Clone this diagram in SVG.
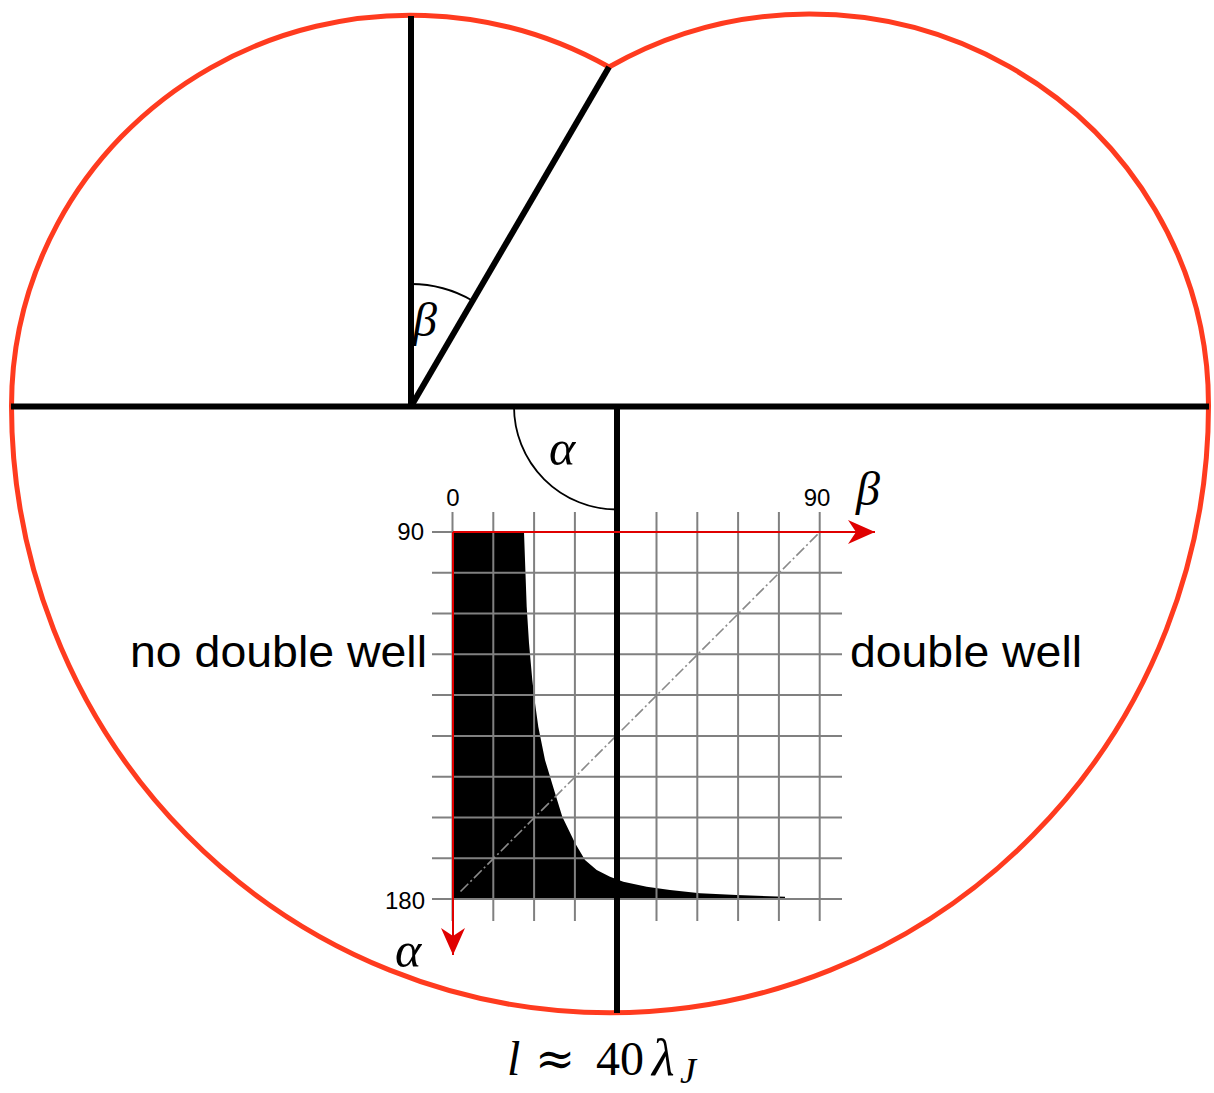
<svg xmlns="http://www.w3.org/2000/svg" width="1214" height="1093" viewBox="0 0 1214 1093">
<style>
.thick{stroke:#000;stroke-width:6;fill:none}
.thin{stroke:#000;stroke-width:1.8;fill:none}
.grid line{stroke:#808080;stroke-width:2}
.axis{stroke:#e00000;stroke-width:2;fill:none}
.num{font-family:"Liberation Sans",Arial,sans-serif;font-size:24px;fill:#000}
.lbl{font-family:"Liberation Sans",Arial,sans-serif;font-size:44px;fill:#000}
.math{font-family:"Liberation Serif","DejaVu Serif",serif;fill:#000}
.it{font-style:italic}
</style>
<defs>
<marker id="arr" markerUnits="userSpaceOnUse" markerWidth="28" markerHeight="26" viewBox="0 0 28 26" refX="27" refY="13" orient="auto">
<path d="M0,1 L27,13 L0,25 L8,13 Z" fill="#e00000"/>
</marker>
</defs>
<rect width="1214" height="1093" fill="#fff"/>
<g id="outline">
<path d="M609,67 A399,391 0 0 0 11.5,406 A598.5,607 0 0 0 1208.5,406 A399,391 0 0 0 609,67 Z" fill="none" stroke="#ff3b1f" stroke-width="5" stroke-linejoin="miter"/>
</g>
<g id="plot">
<polygon fill="#000" points="453,532 524,532 525,560 526.7,606.7 529,643 532.3,680 535,703 538.3,726.7 545,760 555,793 562.3,816.7 575,843 585,860 596.7,870 610,876.7 623.3,881.7 646.7,886.7 670,890 700,893.3 736.7,895 785,896.7 785,899 453,899"/>
<g class="grid">
<line x1="452.5" y1="512" x2="452.5" y2="921"/>
<line x1="493.3" y1="512" x2="493.3" y2="921"/>
<line x1="534.1" y1="512" x2="534.1" y2="921"/>
<line x1="574.9" y1="512" x2="574.9" y2="921"/>
<line x1="615.7" y1="512" x2="615.7" y2="921"/>
<line x1="656.5" y1="512" x2="656.5" y2="921"/>
<line x1="697.3" y1="512" x2="697.3" y2="921"/>
<line x1="738.1" y1="512" x2="738.1" y2="921"/>
<line x1="778.9" y1="512" x2="778.9" y2="921"/>
<line x1="819.7" y1="512" x2="819.7" y2="921"/>
<line x1="432" y1="532" x2="842" y2="532"/>
<line x1="432" y1="572.8" x2="842" y2="572.8"/>
<line x1="432" y1="613.6" x2="842" y2="613.6"/>
<line x1="432" y1="654.3" x2="842" y2="654.3"/>
<line x1="432" y1="695.1" x2="842" y2="695.1"/>
<line x1="432" y1="735.9" x2="842" y2="735.9"/>
<line x1="432" y1="776.7" x2="842" y2="776.7"/>
<line x1="432" y1="817.4" x2="842" y2="817.4"/>
<line x1="432" y1="858.2" x2="842" y2="858.2"/>
<line x1="432" y1="899" x2="842" y2="899"/>
</g>
<line x1="460.5" y1="891.5" x2="820" y2="532" stroke="#8a8a8a" stroke-width="1.6" stroke-dasharray="11,3,2,3"/>
</g>
<g id="connectors">
<line class="thick" x1="11" y1="406.5" x2="1209" y2="406.5"/>
<line class="thick" x1="411" y1="16" x2="411" y2="406.5"/>
<line class="thick" x1="411" y1="406.5" x2="609" y2="67"/>
<line class="thick" x1="617" y1="406.5" x2="617" y2="1013"/>
<path class="thin" d="M411,284 A122,122 0 0 1 472.5,300.7"/>
<path class="thin" d="M514,406.5 A103,103 0 0 0 617,509.5"/>
<line class="axis" x1="453" y1="532" x2="875" y2="532" marker-end="url(#arr)"/>
<line class="axis" x1="453" y1="532" x2="453" y2="955" marker-end="url(#arr)"/>
</g>
<g id="labels">
<text class="num" x="453" y="506" text-anchor="middle">0</text>
<text class="num" x="817" y="506" text-anchor="middle">90</text>
<text class="num" x="424" y="540" text-anchor="end">90</text>
<text class="num" x="425" y="909" text-anchor="end">180</text>
<text class="lbl" x="130" y="667" textLength="297" lengthAdjust="spacingAndGlyphs">no double well</text>
<text class="lbl" x="850" y="667" textLength="232" lengthAdjust="spacingAndGlyphs">double well</text>
<text class="math it" x="413" y="336" font-size="48">β</text>
<text class="math it" x="856" y="505" font-size="48">β</text>
<text class="math it" x="549" y="465" font-size="50">α</text>
<text class="math it" x="395" y="967" font-size="50">α</text>
<text class="math" y="1075" font-size="48"><tspan class="it" x="507">l</tspan><tspan x="535" font-family="DejaVu Serif">≈</tspan><tspan x="596">40</tspan><tspan class="it" x="652" font-size="52">λ</tspan><tspan class="it" font-size="36" x="680" dy="8">J</tspan></text>
</g>
</svg>
